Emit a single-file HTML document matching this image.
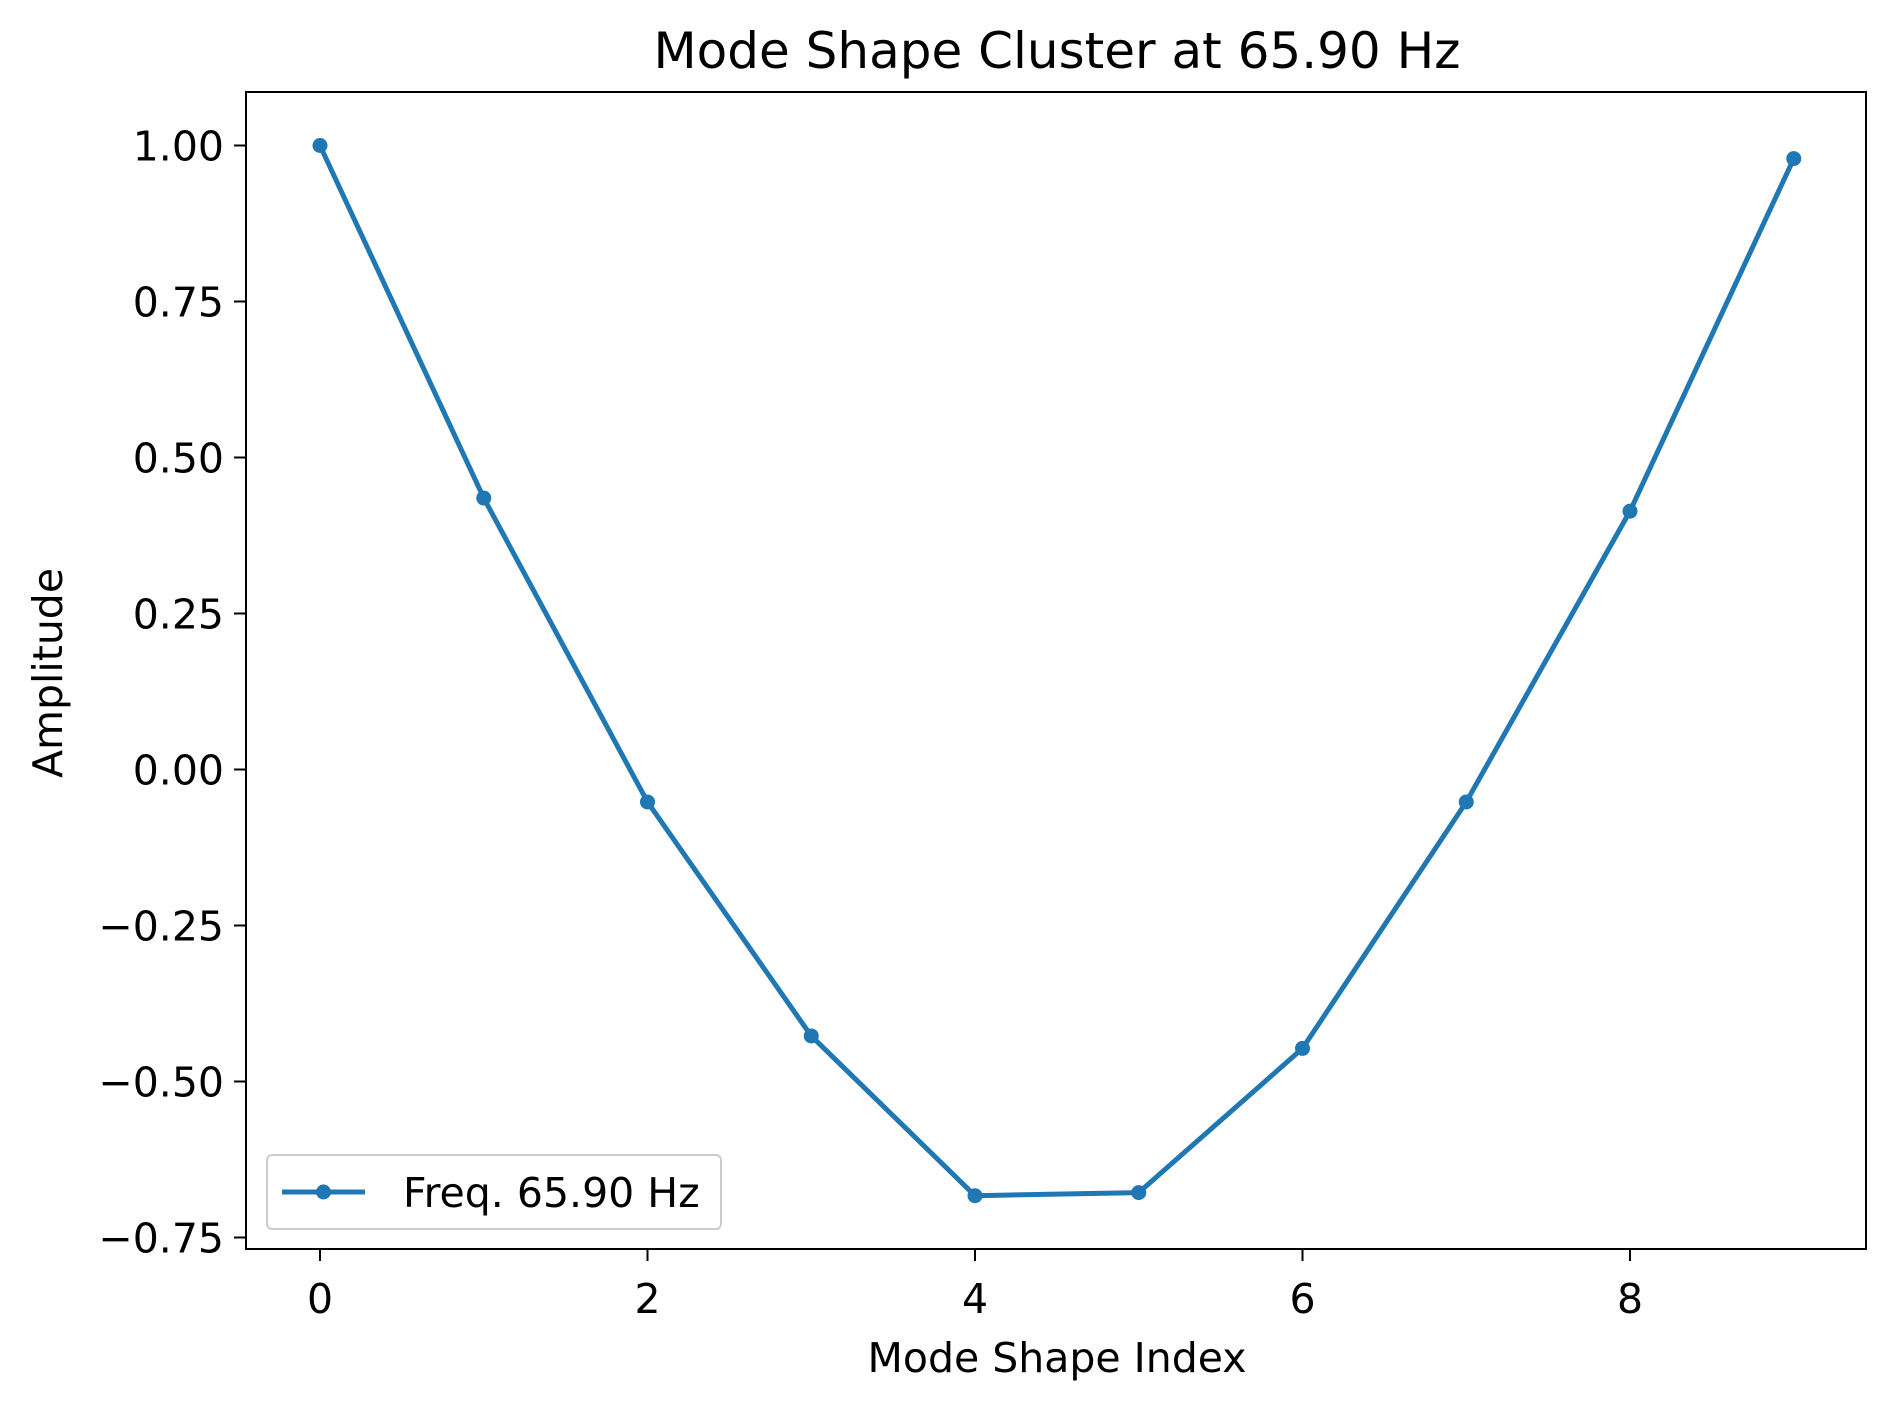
<!DOCTYPE html>
<html><head><meta charset="utf-8"><style>
html,body{margin:0;padding:0;background:#fff}
svg{display:block;font-family:"DejaVu Sans","Liberation Sans",sans-serif}
</style></head><body>
<svg id="chart" width="1891" height="1406" viewBox="0 0 1891 1406">
<rect width="1891" height="1406" fill="#fff"/>
<text x="1057" y="68" font-size="50" text-anchor="middle">Mode Shape Cluster at 65.90 Hz</text>
<g id="plot"></g>
<text x="1057" y="1372" font-size="41" text-anchor="middle">Mode Shape Index</text>
<text transform="translate(62,673) rotate(-90)" font-size="41" text-anchor="middle">Amplitude</text>
</svg>
<script>
const indices=[0,1,2,3,4,5,6,7,8,9];
const amplitudes=[1.00,0.435,-0.052,-0.427,-0.683,-0.678,-0.447,-0.052,0.414,0.979];
const xTicks=[0,2,4,6,8];
const yTicks=[1.00,0.75,0.50,0.25,0.00,-0.25,-0.50,-0.75];
const seriesLabel="Freq. 65.90 Hz";

const L=246,R=1866,T=92,B=1249;
const X=v=>320+(v-0)*(1630-320)/8;
const Y=v=>145.5+(1-v)*(1237.5-145.5)/1.75;
const NS="http://www.w3.org/2000/svg";
const g=document.getElementById('plot');
function mk(t,a,p){const e=document.createElementNS(NS,t);for(const k in a)e.setAttribute(k,a[k]);(p||g).appendChild(e);return e;}
const fmt=v=>(v<0?"\u2212":"")+Math.abs(v).toFixed(2);

xTicks.forEach(v=>{
  const tk=mk('line',{x1:X(v),x2:X(v),y1:B,y2:B+12,stroke:'#000','stroke-width':2});
  
  
  const t=mk('text',{x:X(v),y:B+64,'font-size':41,'text-anchor':'middle'});
  t.textContent=v;
  
  
});
yTicks.forEach(v=>{
  const tk=mk('line',{x1:L-12,x2:L,y1:Y(v),y2:Y(v),stroke:'#000','stroke-width':2});
  
  
  const t=mk('text',{x:L-22,y:Y(v)+15,'font-size':41,'text-anchor':'end'});
  t.textContent=fmt(v);
  
  
});

const pts=indices.map((x,i)=>X(x)+','+Y(amplitudes[i])).join(' ');
const line=mk('polyline',{points:pts,fill:'none',stroke:'#1f77b4','stroke-width':5,'stroke-linejoin':'round','stroke-linecap':'square'});


indices.forEach((x,i)=>{
  const c=mk('circle',{cx:X(x),cy:Y(amplitudes[i]),r:7.5,fill:'#1f77b4'});
  
  
});

const frame=mk('rect',{x:L,y:T,width:R-L,height:B-T,fill:'none',stroke:'#000','stroke-width':2});



const lg=mk('g',{});


mk('rect',{x:267,y:1155,width:454,height:74,rx:5,fill:'#fff','fill-opacity':0.8,stroke:'#ccc','stroke-width':2},lg);
const ll=mk('line',{x1:282,x2:365,y1:1192,y2:1192,stroke:'#1f77b4','stroke-width':5},lg);


mk('circle',{cx:323.5,cy:1192,r:7.5,fill:'#1f77b4'},lg);
const lt=mk('text',{x:403,y:1207,'font-size':41},lg);
lt.textContent=seriesLabel;


</script>
</body></html>
